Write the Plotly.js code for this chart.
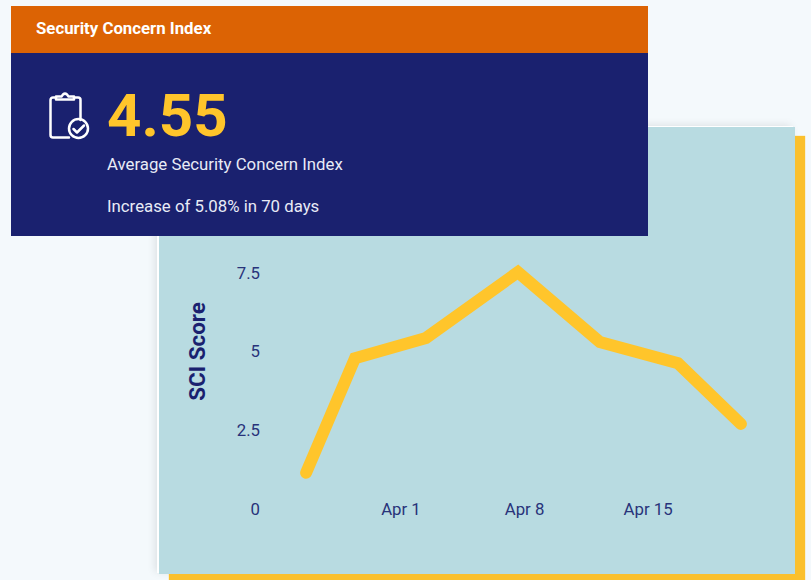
<!DOCTYPE html>
<html>
<head>
<meta charset="utf-8">
<script src="https://cdn.plot.ly/plotly-3.0.1.min.js"></script>
<style>
html,body{margin:0;padding:0;width:811px;height:580px;overflow:hidden;background:#f4f9fc;font-family:Roboto,sans-serif}
.abs{position:absolute}
#chartCard{left:159px;top:127px;width:636px;height:447px;background:#b8dbe1;box-shadow:-2px -1px 0 #fff,10px 9px 1px #fbc02d,-4px -2px 8px rgba(0,0,0,.10)}
#chart{position:absolute;left:0;top:0;width:636px;height:447px}
#chart .js-line{stroke-linecap:round}
#kpi{left:11px;top:6px;width:637px;height:230px;background:#1a216f}
#kpiHead{left:0;top:0;width:637px;height:47px;background:#dc6304}
.t{position:absolute;white-space:nowrap;line-height:1}
</style>
</head>
<body>
<div id="chartCard" class="abs"><div id="chart"></div></div>
<div id="kpi" class="abs">
  <div id="kpiHead" class="abs"></div>
  <div class="t" id="kpiTitle" style="left:25px;top:14px;font-size:16.8px;font-weight:700;color:#fff"></div>
  <svg class="abs" style="left:37px;top:84px" width="44" height="52" viewBox="0 0 44 52" fill="none" stroke="#fff" stroke-width="2.500" stroke-linejoin="round" stroke-linecap="round">
    <path d="M21 47.500H5a2.500 2.500 0 0 1-2.500-2.500V10A2.500 2.500 0 0 1 5 7.500H8M26 7.500H30A2.500 2.500 0 0 1 32.500 10V30"/>
    <path d="M8 9.500V6.500H13.500L15 4.500Q17 2.800 19 4.500L20.500 6.500H26V9.500Z"/>
    <circle cx="30.500" cy="38.500" r="9.500"/>
    <path d="M25.500 39L29 42.500L36 35.500"/>
  </svg>
  <div class="t" id="kpiValue" style="left:96px;top:80px;font-size:60px;font-weight:700;color:#ffc52b"></div>
  <div class="t" id="kpiLabel" style="left:96px;top:150px;font-size:16.8px;color:#e8ebf6"></div>
  <div class="t" id="kpiDelta" style="left:96px;top:192px;font-size:16.8px;color:#e8ebf6"></div>
</div>
<script>
const kpiTitle = "Security Concern Index";
const kpiValue = "4.55";
const kpiLabel = "Average Security Concern Index";
const kpiDelta = "Increase of 5.08% in 70 days";
const yAxisTitle = "SCI Score";

const dates = ["2021-03-26 15:00","2021-03-29 09:30","2021-04-02 10:00","2021-04-07 15:00","2021-04-12 06:30","2021-04-16 16:30","2021-04-20 06:15"];
const sciScores = [1.15,4.79,5.43,7.52,5.30,4.63,2.70];
const yTickVals = [0,2.5,5,7.5];
const yTickText = ["0","2.5","5","7.5"];
const xTickVals = ["2021-04-01","2021-04-08","2021-04-15"];
const xTickText = ["Apr 1","Apr 8","Apr 15"];

document.getElementById("kpiTitle").textContent = kpiTitle;
document.getElementById("kpiValue").textContent = kpiValue;
document.getElementById("kpiLabel").textContent = kpiLabel;
document.getElementById("kpiDelta").textContent = kpiDelta;

const tickFont = {family:"Roboto, sans-serif", size:16.8, color:"#28337a"};
Plotly.newPlot("chart",[{
  type:"scatter", mode:"lines", x:dates, y:sciScores,
  line:{color:"#ffc52b", width:12, shape:"linear"}, hoverinfo:"x+y"
}],{
  width:636, height:447,
  paper_bgcolor:"rgba(0,0,0,0)", plot_bgcolor:"rgba(0,0,0,0)",
  margin:{l:102,r:35,t:67,b:65},
  showlegend:false,
  xaxis:{type:"date", range:["2021-03-24 01:40","2021-04-21 08:10"], tickmode:"array", tickvals:xTickVals, ticktext:xTickText,
    tickfont:tickFont, showgrid:false, zeroline:false, showline:false, ticks:"", anchor:"free", position:0.038},
  yaxis:{range:[0,10], tickmode:"array", tickvals:yTickVals, ticktext:yTickText, tickfont:tickFont,
    showgrid:false, zeroline:false, showline:false, ticks:"",
    title:{text:yAxisTitle, font:{family:"Roboto, sans-serif", size:22.4, color:"#1a216f", weight:700}, standoff:24}}
},{displayModeBar:false, staticPlot:true});
</script>
</body>
</html>
